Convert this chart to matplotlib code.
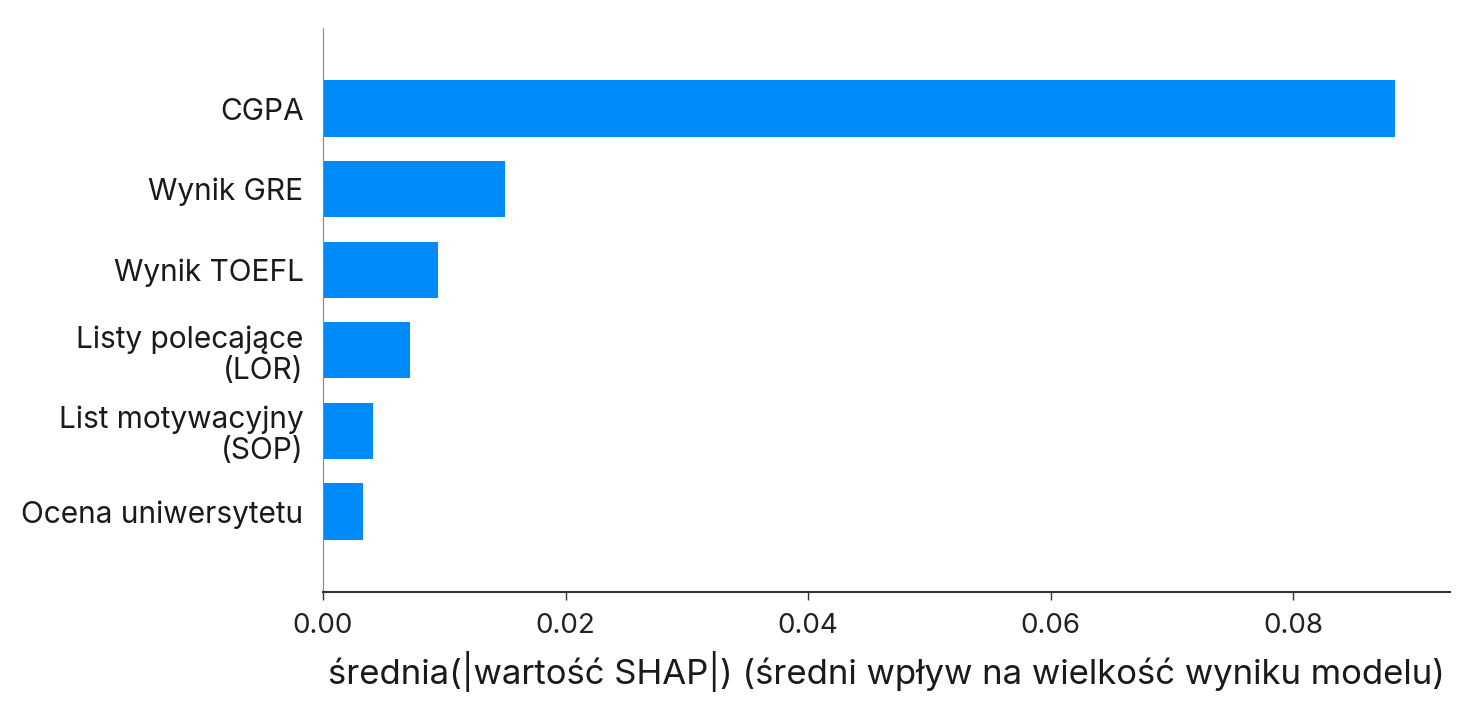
import matplotlib.pyplot as plt

plt.rcParams['font.family'] = ['Inter', 'DejaVu Sans']

# features from bottom to top
features = ["Ocena uniwersytetu", "List motywacyjny\n(SOP)", "Listy polecające\n(LOR)",
            "Wynik TOEFL", "Wynik GRE", "CGPA"]
values = [0.0033, 0.0041, 0.0072, 0.0095, 0.0150, 0.0884]
xticks = [0.00, 0.02, 0.04, 0.06, 0.08]
xlabel = "średnia(|wartość SHAP|) (średni wpływ na wielkość wyniku modelu)"

fig = plt.figure(figsize=(14.77, 7.2), dpi=100)
ax = fig.add_axes([0.2187, 0.1778, 0.9817 - 0.2187, 0.9611 - 0.1778])

ypos = range(len(features))
ax.barh(ypos, values, height=0.7, color="#008bfb", align="center")

ax.set_ylim(-1, len(features))
ax.set_xlim(0, 0.0929)
ax.set_yticks(list(ypos))
ax.set_yticklabels(features, fontsize=21.5, color="#1a1a1a", linespacing=1.15)
ax.tick_params(axis="y", length=0, pad=14)

ax.set_xticks(xticks)
ax.set_xticklabels([f"{t:.2f}" for t in xticks], fontsize=20, color="#222222")
ax.tick_params(axis="x", length=6, width=1, color="#333333", pad=9)
ax.set_xlabel(xlabel, fontsize=25, color="#1a1a1a", labelpad=9)

ax.spines["top"].set_visible(False)
ax.spines["right"].set_visible(False)
ax.spines["left"].set_color("#888888")
ax.spines["bottom"].set_color("#333333")
ax.spines["bottom"].set_linewidth(1.5)

fig.savefig("out.png", dpi=100)
